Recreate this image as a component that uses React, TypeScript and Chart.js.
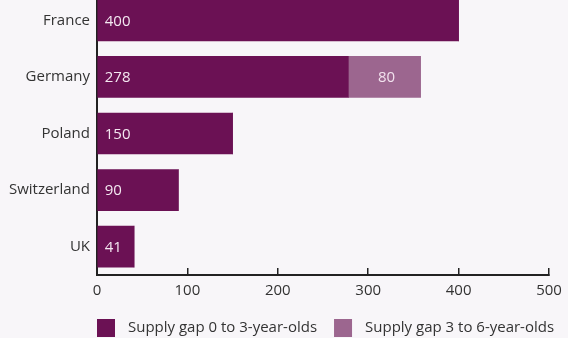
import React, { useEffect, useRef } from "react";
import { Chart, registerables } from "chart.js";

Chart.register(...registerables);

const categories = ["France", "Germany", "Poland", "Switzerland", "UK"];
const gap0to3 = [400, 278, 150, 90, 41];
const gap3to6 = [0, 80, 0, 0, 0];
const seriesNames = ["Supply gap 0 to 3-year-olds", "Supply gap 3 to 6-year-olds"];
const xTicks = [0, 100, 200, 300, 400, 500];

const DARK = "#6b1154";
const LIGHT = "#9c668f";
const BG = "#f8f6f9";
const TEXT = "#333333";
const FONT = "'Open Sans', 'Noto Sans', sans-serif";
const FS = 15;

const valueLabels = {
  id: "valueLabels",
  afterDatasetsDraw(chart: any) {
    const ctx = chart.ctx;
    ctx.save();
    ctx.font = `${FS}px ${FONT}`;
    ctx.textBaseline = "middle";
    chart.data.datasets.forEach((ds: any, di: number) => {
      const meta = chart.getDatasetMeta(di);
      meta.data.forEach((bar: any, i: number) => {
        const v = ds.data[i];
        if (!v) return;
        const props = bar.getProps(["x", "y", "base"], true);
        if (di === 0) {
          ctx.fillStyle = "#f4e8f1";
          ctx.textAlign = "left";
          ctx.fillText(String(v), props.base + 7, props.y + 1);
        } else {
          ctx.fillStyle = "#f2e2ee";
          ctx.textAlign = "center";
          ctx.fillText(String(v), (props.base + props.x) / 2 + 2, props.y + 1);
        }
      });
    });
    ctx.restore();
  },
};

const customLegend = {
  id: "customLegend",
  afterDraw(chart: any) {
    const ctx = chart.ctx;
    ctx.save();
    ctx.font = `${FS}px ${FONT}`;
    ctx.textBaseline = "middle";
    ctx.textAlign = "left";
    let x = chart.chartArea.left;
    const boxTop = chart.chartArea.bottom + 44;
    const box = 18;
    chart.data.datasets.forEach((ds: any) => {
      ctx.fillStyle = ds.backgroundColor;
      ctx.fillRect(x, boxTop, box, box);
      const tx = x + box + 13;
      ctx.fillStyle = TEXT;
      ctx.fillText(ds.label, tx, boxTop + 9);
      x = tx + ctx.measureText(ds.label).width + 17;
    });
    ctx.restore();
  },
};

export default function App() {
  const ref = useRef<HTMLCanvasElement | null>(null);
  useEffect(() => {
    if (!ref.current) return;
    const chart = new Chart(ref.current, {
      type: "bar",
      data: {
        labels: categories,
        datasets: [
          { label: seriesNames[0], data: gap0to3, backgroundColor: DARK, barThickness: 41 },
          { label: seriesNames[1], data: gap3to6, backgroundColor: LIGHT, barThickness: 41 },
        ],
      },
      options: {
        indexAxis: "y",
        animation: false,
        responsive: false,
        maintainAspectRatio: false,
        layout: { padding: { left: 0, right: 19, top: 0, bottom: 0 } },
        plugins: {
          tooltip: { enabled: false },
          legend: { display: false },
        },
        scales: {
          x: {
            stacked: true,
            min: 0,
            max: 500,
            afterBuildTicks: (scale: any) => {
              scale.ticks = xTicks.map((v) => ({ value: v }));
            },
            afterFit: (scale: any) => {
              scale.height = 63;
              scale.paddingLeft = 0;
              scale.paddingRight = 0;
            },
            grid: {
              drawOnChartArea: false,
              drawTicks: true,
              tickLength: -7,
              color: "#222",
              lineWidth: 1.5,
            },
            border: { color: "#222", width: 2 },
            ticks: {
              padding: 14,
              color: TEXT,
              font: { family: FONT, size: FS },
              maxRotation: 0,
            },
          },
          y: {
            stacked: true,
            afterFit: (scale: any) => {
              scale.width = 97;
              scale.paddingTop = 0;
              scale.paddingBottom = 0;
            },
            grid: { display: false, drawTicks: false },
            border: { color: "#222", width: 2 },
            ticks: {
              padding: 7,
              color: TEXT,
              font: { family: FONT, size: FS },
            },
          },
        },
      },
      plugins: [valueLabels, customLegend],
    });
    return () => chart.destroy();
  }, []);
  return (
    <div
      style={{
        position: "absolute",
        left: 0,
        top: -8,
        width: 568,
        height: 346,
        background: BG,
      }}
    >
      <canvas ref={ref} width={568} height={346} style={{ display: "block" }} />
    </div>
  );
}
